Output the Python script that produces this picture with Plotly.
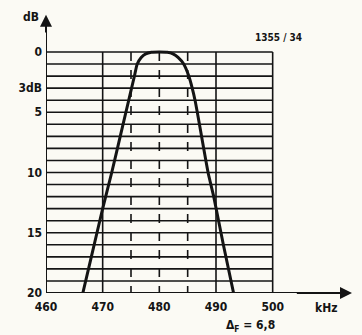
import plotly.graph_objects as go

# Filter pass-band response: attenuation (dB) versus frequency (kHz)
freq_khz = [466.5, 468.0, 470.0, 471.6, 473.1, 474.1, 475.1, 475.6, 476.1, 476.8,
            477.6, 478.6, 480.0, 481.4, 482.4, 483.3, 484.3, 485.2, 485.8, 486.3,
            486.7, 488.6, 489.6, 491.3, 493.1]
atten_db = [20, 17, 13, 10, 7, 5, 3, 2, 1, 0.45,
            0.15, 0.02, 0, 0.02, 0.15, 0.45, 1, 2, 3, 4,
            5, 10, 12, 16, 20]

x_ticks = [460, 470, 480, 490, 500]
y_ticks = [0, 3, 5, 10, 15, 20]
y_tick_text = ["0", "3dB", "5", "10", "15", "20"]
grid_db = list(range(0, 21))
solid_verticals = [470, 490, 500]
dashed_verticals = [475, 480, 485]

INK = "#141414"
PAPER = "#fbfaf4"
FONT = dict(family="DejaVu Sans Condensed", size=12, color=INK)

fig = go.Figure()

fig.add_trace(go.Scatter(
    x=freq_khz, y=atten_db, mode="lines",
    line=dict(color=INK, width=3, shape="spline", smoothing=0.5),
    hoverinfo="skip", showlegend=False,
))

shapes = []
# horizontal grid, one line per dB
for d in grid_db:
    shapes.append(dict(type="line", xref="x", yref="y", x0=460, x1=500, y0=d, y1=d,
                       line=dict(color=INK, width=1.6), layer="below"))
for f in solid_verticals:
    shapes.append(dict(type="line", xref="x", yref="y", x0=f, x1=f, y0=0, y1=20,
                       line=dict(color=INK, width=1.6), layer="below"))
for f in dashed_verticals:
    shapes.append(dict(type="line", xref="x", yref="y", x0=f, x1=f, y0=0, y1=20,
                       line=dict(color=INK, width=1.6, dash="dash"), layer="below"))
# axes
shapes.append(dict(type="line", xref="x", yref="y", x0=460, x1=512, y0=20, y1=20,
                   line=dict(color=INK, width=2)))
shapes.append(dict(type="line", xref="x", yref="y", x0=460, x1=460, y0=20, y1=-2.6,
                   line=dict(color=INK, width=2)))

annotations = [
    # axis arrowheads
    dict(x=514, y=20, ax=504, ay=20, xref="x", yref="y", axref="x", ayref="y",
         showarrow=True, arrowhead=2, arrowsize=1.2, arrowwidth=2, arrowcolor=INK, text=""),
    dict(x=460, y=-3.1, ax=460, ay=-1.5, xref="x", yref="y", axref="x", ayref="y",
         showarrow=True, arrowhead=2, arrowsize=1.2, arrowwidth=2, arrowcolor=INK, text=""),
    dict(x=460, y=-2.9, xref="x", yref="y", text="<b>dB</b>", showarrow=False,
         xanchor="right", xshift=-5, font=FONT),
    dict(x=509.5, y=20, xref="x", yref="y", text="<b>kHz</b>", showarrow=False,
         yanchor="top", yshift=-6, font=FONT),
    dict(x=496, y=20, xref="x", yref="y", text="<b>Δ<sub>F</sub> = 6,8</b>", showarrow=False,
         yanchor="top", yshift=-23, font=FONT),
    dict(x=501, y=-1.2, xref="x", yref="y", text="<b>1355 / 34</b>", showarrow=False,
         font=dict(family="DejaVu Sans Condensed", size=10, color=INK)),
]

fig.update_layout(
    width=362, height=335,
    margin=dict(l=46, r=10, t=15, b=42),
    paper_bgcolor=PAPER, plot_bgcolor=PAPER,
    shapes=shapes, annotations=annotations,
    font=FONT,
    xaxis=dict(range=[460, 514], tickvals=x_ticks, ticktext=[f"<b>{v}</b>" for v in x_ticks],
               showgrid=False, zeroline=False, showline=False, ticks="", ticklabelstandoff=5,
               fixedrange=True),
    yaxis=dict(range=[20, -3.07], tickvals=y_ticks, ticktext=[f"<b>{t}</b>" for t in y_tick_text],
               showgrid=False, zeroline=False, showline=False, ticks="", ticklabelstandoff=3,
               fixedrange=True),
)

fig.write_html("out.html")
